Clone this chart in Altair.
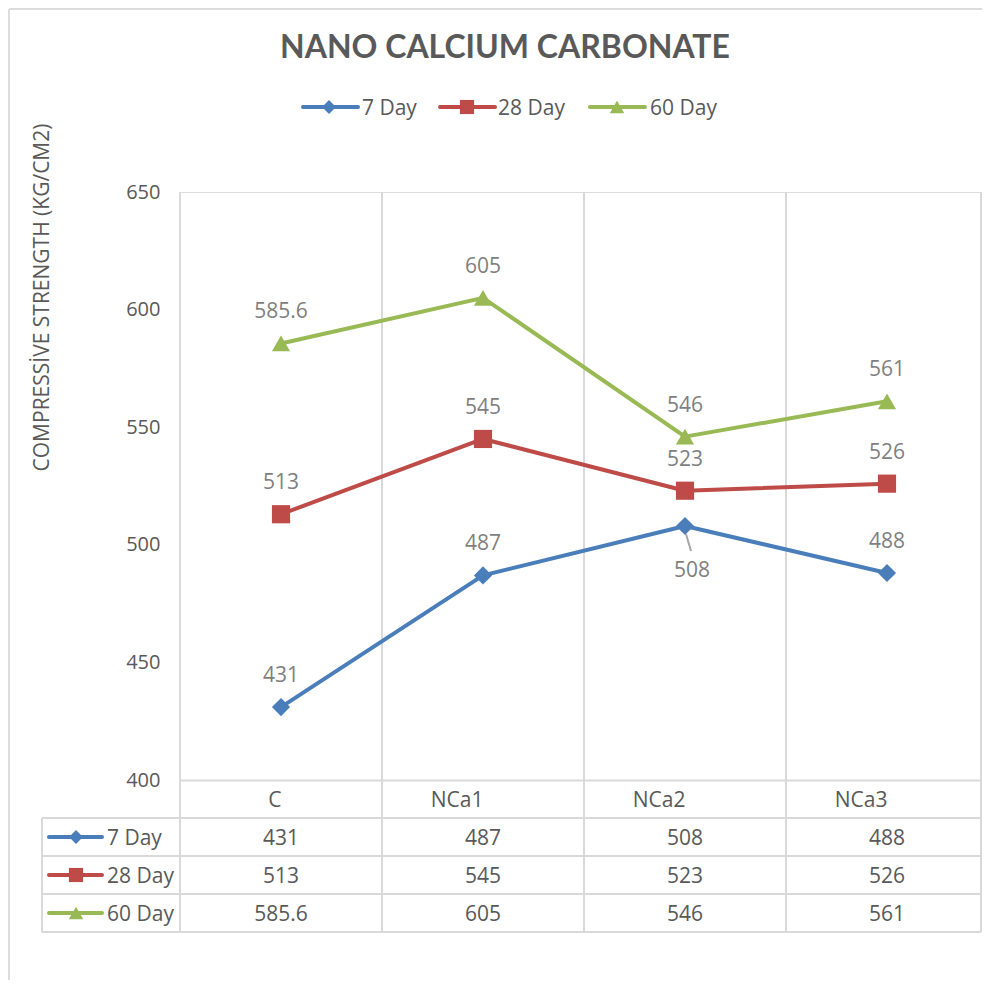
import altair as alt
import pandas as pd

# ---- data ----
categories = ["C", "NCa1", "NCa2", "NCa3"]
series_names = ["7 Day", "28 Day", "60 Day"]
day7 = [431, 487, 508, 488]
day28 = [513, 545, 523, 526]
day60 = [585.6, 605, 546, 561]
y_ticks = [400, 450, 500, 550, 600, 650]
title_text = "NANO CALCIUM CARBONATE"
y_title = "COMPRESSİVE STRENGTH (KG/CM2)"
# label drawn below its point (with leader line) in the reference
below_labels = [("7 Day", "NCa2")]

# ---- styling / layout ----
W, H = 808, 588
PAD_L, PAD_T, PAD_B, PAD_R = 172, 184, 200, -6   # drawing is clipped at its right edge
RIGHT = W + PAD_R - 1                             # last visible vertical line
FONT = "Open Sans"
TXT = "#595959"
LBL = "#7f7f7f"
GRID = "#d9d9d9"
colors = ["#4a7ebb", "#be4b48", "#98b954"]
shapes = ["diamond", "square", "triangle-up"]
plot_sizes = [330, 330, 361]
small_sizes = [190, 200, 210]
HALF = W / 8

rows = []
for s, vals in zip(series_names, [day7, day28, day60]):
    for c, v in zip(categories, vals):
        rows.append({
            "category": c, "series": s, "value": v,
            "label": f"{v:g}",
            "pos": "below" if (s, c) in below_labels else "above",
        })
df = pd.DataFrame(rows)
cat_df = pd.DataFrame({"category": categories})
one = pd.DataFrame({"k": [0]})

x_scale = alt.Scale(type="point", padding=0.5, domain=categories)
x_enc = alt.X(
    "category:N", sort=categories, scale=x_scale,
    axis=alt.Axis(title=None, labelAngle=0, ticks=False, tickSize=0,
                  labelPadding=26.5, labelBaseline="alphabetic",
                  labelFont=FONT, labelFontSize=21, labelColor=TXT,
                  domainColor=GRID, domainWidth=2, grid=False),
)
y_enc = alt.Y(
    "value:Q",
    scale=alt.Scale(domain=[400, 650], nice=False, zero=False),
    axis=alt.Axis(values=y_ticks, ticks=False, tickSize=0, domain=False, grid=False,
                  labelPadding=20, labelFont=FONT, labelFontSize=20, labelColor=TXT,
                  title=y_title, titleFont=FONT, titleFontSize=21,
                  titleFontWeight="normal", titleColor=TXT,
                  titleX=-138, titleY=105, titleAngle=270,
                  titleAlign="center", titleBaseline="middle"),
)
color_enc = alt.Color("series:N", scale=alt.Scale(domain=series_names, range=colors), legend=None)
shape_enc = alt.Shape("series:N", scale=alt.Scale(domain=series_names, range=shapes), legend=None)
size_enc = alt.Size("series:N", scale=alt.Scale(domain=series_names, range=plot_sizes), legend=None)

layers = []

# outer chart border (left and top edges)
layers.append(alt.Chart(one).mark_rule(color="#dcdcdc", strokeWidth=2).encode(
    x=alt.value(-171), y=alt.value(-183), y2=alt.value(H + PAD_B)))
layers.append(alt.Chart(one).mark_rule(color="#dcdcdc", strokeWidth=2).encode(
    x=alt.value(-171), x2=alt.value(W), y=alt.value(-183)))

# vertical grid lines at category boundaries + right edge
layers.append(alt.Chart(cat_df).mark_rule(color=GRID, strokeWidth=2, xOffset=-HALF).encode(
    x=alt.X("category:N", sort=categories, scale=x_scale),
    y=alt.value(0), y2=alt.value(740)))
layers.append(alt.Chart(one).mark_rule(color=GRID, strokeWidth=2).encode(
    x=alt.value(RIGHT), y=alt.value(0), y2=alt.value(740)))
# data table lines
for yy in [626, 664, 702, 740]:
    layers.append(alt.Chart(one).mark_rule(color=GRID, strokeWidth=2).encode(
        x=alt.value(-138), x2=alt.value(RIGHT), y=alt.value(yy)))
layers.append(alt.Chart(one).mark_rule(color=GRID, strokeWidth=2).encode(
    x=alt.value(-138), y=alt.value(626), y2=alt.value(740)))

# series lines and markers
base = alt.Chart(df)
layers.append(base.mark_line(strokeWidth=4, strokeJoin="round", strokeCap="round").encode(
    x=x_enc, y=y_enc, color=color_enc, detail="series:N"))
layers.append(base.mark_point(filled=True, opacity=1).encode(
    x=x_enc, y=y_enc, color=color_enc, shape=shape_enc, size=size_enc))

# data labels
layers.append(base.transform_filter("datum.pos == 'above'").mark_text(
    font=FONT, fontSize=21, color=LBL, baseline="alphabetic", align="center", dy=-25).encode(
    x=x_enc, y=y_enc, text="label:N"))
layers.append(base.transform_filter("datum.pos == 'below'").mark_text(
    font=FONT, fontSize=21, color=LBL, baseline="alphabetic", align="center", dx=7, dy=51.5).encode(
    x=x_enc, y=y_enc, text="label:N"))
layers.append(base.transform_filter("datum.pos == 'below'").mark_rule(
    color="#a6a6a6", strokeWidth=2, xOffset=1, yOffset=8, x2Offset=6, y2Offset=25).encode(
    x=x_enc, y=y_enc, x2="category:N", y2="value:Q"))

# title
layers.append(alt.Chart(pd.DataFrame({"t": [title_text]})).mark_text(
    font="Lato", fontSize=32, fontWeight="bold", color=TXT, align="center", baseline="alphabetic").encode(
    x=alt.value(325), y=alt.value(-134), text="t:N"))

# legend (line + marker + text)
leg_line = [(123, 178), (260, 315), (410, 465)]
leg_mark = [149, 287, 437]
leg_text = [182, 318, 470]
LEG_Y = -85
for i, s in enumerate(series_names):
    sd = pd.DataFrame({"series": [s]})
    layers.append(alt.Chart(sd).mark_rule(color=colors[i], strokeWidth=4, strokeCap="round").encode(
        x=alt.value(leg_line[i][0]), x2=alt.value(leg_line[i][1]), y=alt.value(LEG_Y)))
    layers.append(alt.Chart(sd).mark_point(filled=True, opacity=1, color=colors[i], shape=shapes[i],
                                           size=small_sizes[i]).encode(
        x=alt.value(leg_mark[i]), y=alt.value(LEG_Y)))
    layers.append(alt.Chart(sd).mark_text(font=FONT, fontSize=21, color=TXT, align="left",
                                          baseline="alphabetic").encode(
        x=alt.value(leg_text[i]), y=alt.value(LEG_Y + 7.5), text="series:N"))

# data table rows: header symbol + name + values
row_centers = [645, 683, 721]
for i, s in enumerate(series_names):
    yc = row_centers[i]
    sd = pd.DataFrame({"series": [s]})
    layers.append(alt.Chart(sd).mark_rule(color=colors[i], strokeWidth=4, strokeCap="round").encode(
        x=alt.value(-131), x2=alt.value(-78), y=alt.value(yc)))
    layers.append(alt.Chart(sd).mark_point(filled=True, opacity=1, color=colors[i], shape=shapes[i],
                                           size=small_sizes[i]).encode(
        x=alt.value(-104), y=alt.value(yc)))
    layers.append(alt.Chart(sd).mark_text(font=FONT, fontSize=21, color=TXT, align="left",
                                          baseline="alphabetic").encode(
        x=alt.value(-73), y=alt.value(yc + 7.5), text="series:N"))
    layers.append(base.transform_filter(alt.datum.series == s).mark_text(
        font=FONT, fontSize=21, color=TXT, align="center", baseline="alphabetic").encode(
        x=x_enc, y=alt.value(yc + 7.5), text="label:N"))

chart = alt.layer(*layers).properties(
    width=W, height=H,
    autosize=alt.AutoSizeParams(type="none"),
    padding={"left": PAD_L, "top": PAD_T, "right": PAD_R, "bottom": PAD_B},
).configure_view(stroke=None).configure(background="white")

chart.save("out.html", embed_options={"renderer": "svg", "actions": False})
